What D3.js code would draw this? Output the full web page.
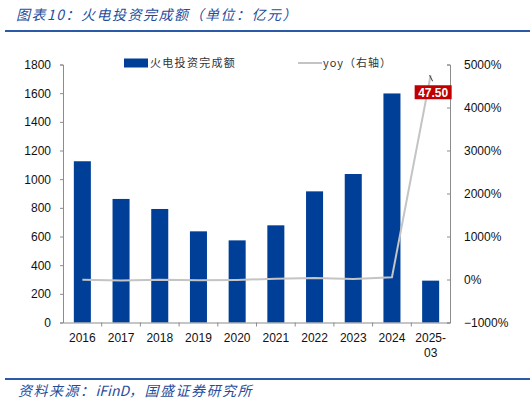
<!DOCTYPE html>
<html>
<head>
<meta charset="utf-8">
<script src="https://cdn.jsdelivr.net/npm/d3@7"></script>
<style>
  body { margin: 0; background: #fff; }
  text { font-family: "Liberation Sans", Arial, sans-serif; }
  .cjk { font-family: "Noto Sans CJK SC", sans-serif; }
</style>
</head>
<body>
<div id="chart"></div>
<script>
// data
let years = ["2016", "2017", "2018", "2019", "2020", "2021", "2022", "2023", "2024", "2025-03"];
let invest = [1125, 862, 792, 636, 573, 678, 915, 1036, 1598, 292];   // 亿元
let yoy = [-0.03, -0.23, -0.08, -0.20, -0.10, 0.18, 0.35, 0.13, 0.54, 47.5];
let leftTicks = [0, 200, 400, 600, 800, 1000, 1200, 1400, 1600, 1800];
let rightTicks = [-10, 0, 10, 20, 30, 40, 50];

let width = 532, height = 406;
let plot = { left: 63, right: 450, top: 64.5, bottom: 322.5 };

let blue = "#003f98";
let textBlue = "#1f4e9d";

let svg = d3.select("#chart")
    .append("svg")
    .attr("width", width)
    .attr("height", height);

svg.append("rect")
    .attr("width", "100%")
    .attr("height", "100%")
    .attr("fill", "#fff");

/*---------------
 // title + footer
 ----------------*/
svg.append("text")
    .attr("class", "cjk")
    .attr("x", 16)
    .attr("y", 20)
    .attr("fill", textBlue)
    .style("font-size", "14px")
    .style("font-style", "italic")
    .style("letter-spacing", "1.5px")
    .text("图表10：火电投资完成额（单位：亿元）");

svg.append("line")
    .attr("x1", 5).attr("x2", 530)
    .attr("y1", 31).attr("y2", 31)
    .attr("stroke", "#2a5aa8")
    .attr("stroke-width", 2);

svg.append("line")
    .attr("x1", 5).attr("x2", 530)
    .attr("y1", 379).attr("y2", 379)
    .attr("stroke", "#2a5aa8")
    .attr("stroke-width", 2);

let footer = svg.append("text")
    .attr("class", "cjk")
    .attr("x", 18)
    .attr("y", 396)
    .attr("fill", textBlue)
    .style("font-size", "14px")
    .style("font-style", "italic");

footer.append("tspan").style("letter-spacing", "1.5px").text("资料来源：");
footer.append("tspan").style("letter-spacing", "0px").text("iFinD");
footer.append("tspan").style("letter-spacing", "1.5px").text("，国盛证券研究所");

/*---------------
 // scales
 ----------------*/
let x = d3.scaleBand()
    .domain(years)
    .range([plot.left, plot.right])
    .paddingInner(0.56)
    .paddingOuter(0.28);

let xCenter = d => x(d) + x.bandwidth() / 2;

let yLeft = d3.scaleLinear()
    .domain([0, 1800])
    .range([plot.bottom, plot.top]);

let yRight = d3.scaleLinear()
    .domain([-10, 50])
    .range([plot.bottom, plot.top]);

/*---------------
 // bars
 ----------------*/
svg.append("g")
    .selectAll("rect")
    .data(years)
    .join("rect")
    .attr("x", d => x(d))
    .attr("width", x.bandwidth())
    .attr("y", (d, i) => yLeft(invest[i]))
    .attr("height", (d, i) => yLeft(0) - yLeft(invest[i]))
    .attr("fill", blue);

/*---------------
 // axes
 ----------------*/
let axisColor = "#8c8c8c";

let leftAxis = svg.append("g")
    .attr("transform", "translate(" + plot.left + ",0)")
    .call(d3.axisLeft(yLeft).tickValues(leftTicks).tickSize(3).tickPadding(9)
        .tickFormat(d3.format("d")));

let rightAxis = svg.append("g")
    .attr("transform", "translate(" + plot.right + ",0)")
    .call(d3.axisRight(yRight).tickValues(rightTicks).tickSize(-3).tickPadding(14)
        .tickFormat(d => d3.format("d")(d * 100) + "%"));

let bottomAxis = svg.append("g")
    .attr("transform", "translate(0," + plot.bottom + ")")
    .call(d3.axisBottom(x).tickSize(0).tickPadding(11));

// category boundary ticks
svg.append("g")
    .selectAll("line")
    .data(d3.range(1, years.length))
    .join("line")
    .attr("x1", i => plot.left + i * (plot.right - plot.left) / years.length)
    .attr("x2", i => plot.left + i * (plot.right - plot.left) / years.length)
    .attr("y1", plot.bottom)
    .attr("y2", plot.bottom + 4)
    .attr("stroke", axisColor);

[leftAxis, rightAxis, bottomAxis].forEach(g => {
    g.select(".domain").attr("stroke", axisColor);
    g.selectAll(".tick line").attr("stroke", axisColor);
    g.selectAll(".tick text")
        .attr("fill", "#111")
        .style("font-size", "12px")
        .style("font-family", "'Liberation Sans', Arial, sans-serif");
});

// two-line label for 2025-03
bottomAxis.selectAll(".tick text")
    .filter(d => d.indexOf("-") > 0)
    .each(function (d) {
        let t = d3.select(this);
        let parts = d.split("-");
        t.text(null);
        t.append("tspan").attr("x", 0).attr("dy", "0.71em").text(parts[0] + "-");
        t.append("tspan").attr("x", 0).attr("dy", "1.25em").text(parts[1]);
    })
    .attr("dy", null);

/*---------------
 // yoy line
 ----------------*/
let line = d3.line()
    .x((d, i) => xCenter(years[i]))
    .y(d => yRight(d));

svg.append("path")
    .datum(yoy)
    .attr("d", line)
    .attr("fill", "none")
    .attr("stroke", "#c4c4c4")
    .attr("stroke-width", 2);

// data label on last point
let lastX = xCenter(years[years.length - 1]);
let lastY = yRight(yoy[yoy.length - 1]);

svg.append("line")
    .attr("x1", lastX - 1).attr("y1", lastY)
    .attr("x2", lastX + 2).attr("y2", lastY + 6)
    .attr("stroke", "#333")
    .attr("stroke-width", 1);

svg.append("rect")
    .attr("x", lastX - 16)
    .attr("y", lastY + 10)
    .attr("width", 37)
    .attr("height", 14)
    .attr("fill", "#c00000");

svg.append("text")
    .attr("x", lastX + 2.5)
    .attr("y", lastY + 21.5)
    .attr("text-anchor", "middle")
    .attr("fill", "#fff")
    .style("font-size", "12px")
    .style("font-weight", "bold")
    .text(d3.format(".2f")(yoy[yoy.length - 1]));

/*---------------
 // legend
 ----------------*/
let legend = svg.append("g");

legend.append("rect")
    .attr("x", 124).attr("y", 58.5)
    .attr("width", 24).attr("height", 9)
    .attr("fill", blue);

legend.append("text")
    .attr("class", "cjk")
    .attr("x", 150).attr("y", 67)
    .attr("fill", "#333")
    .style("font-size", "11px")
    .style("letter-spacing", "1.3px")
    .text("火电投资完成额");

legend.append("line")
    .attr("x1", 298).attr("x2", 322)
    .attr("y1", 63).attr("y2", 63)
    .attr("stroke", "#c4c4c4")
    .attr("stroke-width", 2);

legend.append("text")
    .attr("class", "cjk")
    .attr("x", 323).attr("y", 67)
    .attr("fill", "#333")
    .style("font-size", "11px")
    .style("letter-spacing", "1px")
    .text("yoy（右轴）");
</script>
</body>
</html>
